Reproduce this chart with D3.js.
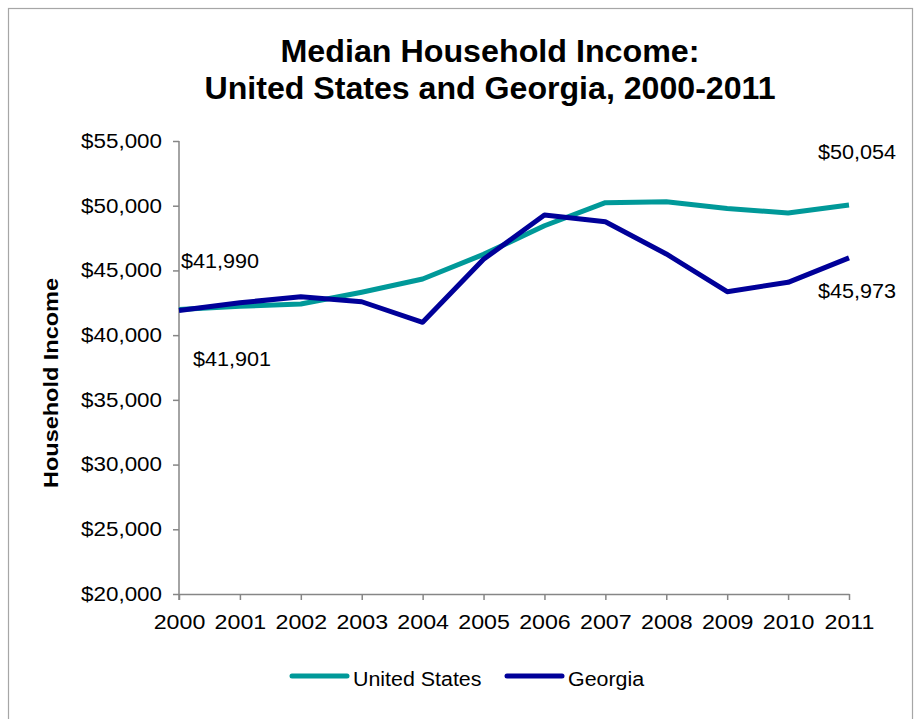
<!DOCTYPE html>
<html><head><meta charset="utf-8">
<script src="https://cdn.jsdelivr.net/npm/d3@7"></script>
<style>
body{margin:0;background:#fff;}
text{font-family:"Liberation Sans",Arial,sans-serif;fill:#000;}
</style></head>
<body><svg id="c" width="924" height="719"></svg>
<script>
const years = ["2000","2001","2002","2003","2004","2005","2006","2007","2008","2009","2010","2011"];
const usValues = [41990,42228,42409,43318,44334,46242,48451,50233,50303,49777,49445,50054];
const gaValues = [41901,42500,42970,42580,40990,45860,49280,48760,46270,43360,44080,45973];
const yTicks = [20000,25000,30000,35000,40000,45000,50000,55000];
const seriesNames = ["United States","Georgia"];
const seriesColors = ["#009999","#000099"];
const titleLines = ["Median Household Income:","United States and Georgia, 2000-2011"];
const yAxisTitle = "Household Income";
const valueLabels = [
  {text:"$41,990", year:"2000", value:41990},
  {text:"$41,901", year:"2000", value:41901},
  {text:"$50,054", year:"2011", value:50054},
  {text:"$45,973", year:"2011", value:45973}
];

const svg = d3.select("#c");
svg.append("rect").attr("x",8.5).attr("y",8.5).attr("width",904).attr("height",740)
  .attr("fill","none").attr("stroke","#a6a6a6").attr("stroke-width",1.2);

const x = d3.scalePoint().domain(years).range([179,849]);
const y = d3.scaleLinear().domain([20000,55000]).range([594,141]);
const fmt = d => "$" + d3.format(",")(d);

// widen glyphs slightly to match the reference's rendering
function stretch(sel, k){
  sel.each(function(){
    const w = this.getComputedTextLength();
    d3.select(this).attr("textLength", w*k).attr("lengthAdjust","spacingAndGlyphs");
  });
}

// title
const tl = svg.append("g");
tl.append("text").attr("x",490).attr("y",62).attr("text-anchor","middle")
  .attr("font-size",31).attr("font-weight","bold").attr("textLength",419).attr("lengthAdjust","spacingAndGlyphs").text(titleLines[0]);
tl.append("text").attr("x",490).attr("y",99).attr("text-anchor","middle")
  .attr("font-size",31).attr("font-weight","bold").attr("textLength",571).attr("lengthAdjust","spacingAndGlyphs").text(titleLines[1]);

// axes
const yAxis = d3.axisLeft(y).tickValues(yTicks).tickSize(6).tickSizeOuter(0).tickPadding(11).tickFormat(fmt);
const gy = svg.append("g").attr("transform","translate(179,0)").call(yAxis);
const xAxis = d3.axisBottom(x).tickSize(6).tickSizeOuter(0).tickPadding(15);
const gx = svg.append("g").attr("transform","translate(0,594)").call(xAxis);
[gy,gx].forEach(g=>{
  g.selectAll("path,line").attr("stroke","#868686").attr("stroke-width",1.5);
  g.selectAll("text").attr("font-size",20).attr("fill","#000").attr("font-family","Liberation Sans, Arial, sans-serif");
});
gy.select(".domain").attr("d","M0,141V600");
stretch(gy.selectAll("text"),1.12);
stretch(gx.selectAll("text"),1.16);

// y axis title
const yt = svg.append("text").attr("transform","translate(58,383) rotate(-90)").attr("text-anchor","middle")
  .attr("font-size",20).attr("font-weight","bold").text(yAxisTitle);
yt.attr("textLength",210).attr("lengthAdjust","spacingAndGlyphs");

// lines
const line = d3.line().x((d,i)=>x(years[i])).y(d=>y(d));
[usValues,gaValues].forEach((vals,i)=>{
  svg.append("path").attr("d",line(vals)).attr("fill","none").attr("stroke",seriesColors[i])
    .attr("stroke-width",5).attr("stroke-linejoin","round");
});

// value labels
const lblOffsets = [{dx:2,dy:-41},{dx:14,dy:55},{dx:-31,dy:-46},{dx:-31,dy:40}];
valueLabels.forEach((l,i)=>{
  const t = svg.append("text").attr("x",x(l.year)+lblOffsets[i].dx).attr("y",y(l.value)+lblOffsets[i].dy)
    .attr("font-size",20).text(l.text);
  stretch(t,1.08);
});

// legend
const legX = [292,507];
seriesNames.forEach((n,i)=>{
  svg.append("line").attr("x1",legX[i]).attr("x2",legX[i]+55).attr("y1",676).attr("y2",676)
    .attr("stroke",seriesColors[i]).attr("stroke-width",5).attr("stroke-linecap","round");
  const t = svg.append("text").attr("x",legX[i]+61).attr("y",686).attr("font-size",20).text(n);
  stretch(t,1.07);
});
</script></body></html>
